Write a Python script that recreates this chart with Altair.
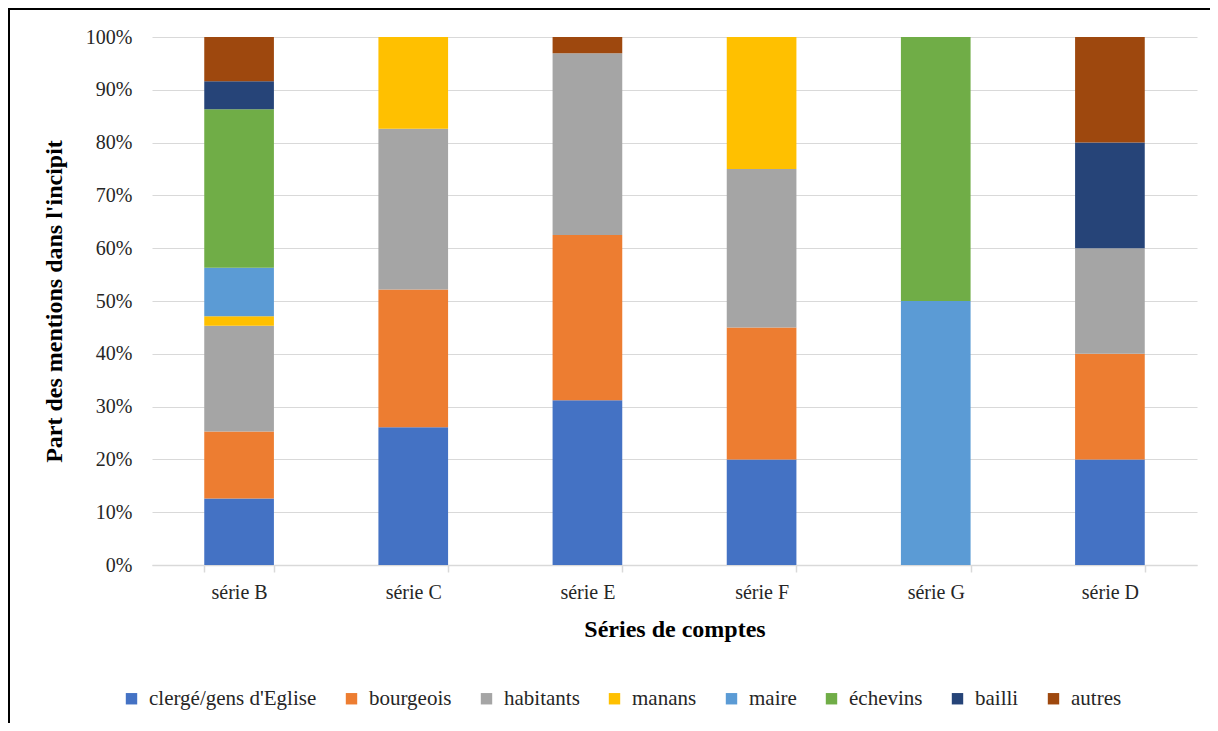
import altair as alt
import pandas as pd

series = ["série B", "série C", "série E", "série F", "série G", "série D"]
groups = ["clergé/gens d'Eglise", "bourgeois", "habitants", "manans", "maire", "échevins", "bailli", "autres"]
colors = ["#4472C4", "#ED7D31", "#A5A5A5", "#FFC000", "#5B9BD5", "#70AD47", "#264478", "#9E480E"]

# percentages per group, in the order of `series`
clerge    = [12.6, 26.1, 31.2, 20.0, 0.0, 20.0]
bourgeois = [12.7, 26.1, 31.3, 25.0, 0.0, 20.0]
habitants = [20.0, 30.4, 34.4, 30.0, 0.0, 20.0]
manans    = [1.8, 17.4, 0.0, 25.0, 0.0, 0.0]
maire     = [9.2, 0.0, 0.0, 0.0, 50.0, 0.0]
echevins  = [30.0, 0.0, 0.0, 0.0, 50.0, 0.0]
bailli    = [5.3, 0.0, 0.0, 0.0, 0.0, 20.0]
autres    = [8.4, 0.0, 3.1, 0.0, 0.0, 20.0]

values = [clerge, bourgeois, habitants, manans, maire, echevins, bailli, autres]
rows = []
for gi, (g, vals) in enumerate(zip(groups, values)):
    for s, v in zip(series, vals):
        rows.append({"serie": s, "groupe": g, "valeur": v, "ordre": gi})
df = pd.DataFrame(rows)

FONT = "Liberation Serif"
W, H = 1045, 528

bars = alt.Chart(df).mark_bar().encode(
    x=alt.X("serie:N", sort=series,
            scale=alt.Scale(paddingInner=0.6, paddingOuter=0.3),
            axis=alt.Axis(title="Séries de comptes", labelAngle=0, labelFont=FONT,
                          labelFontSize=20, labelColor="#262626", labelPadding=10,
                          titleFont=FONT, titleFontSize=24, titleFontWeight="bold",
                          titleColor="#000000", titlePadding=15,
                          domainColor="#D9D9D9", domainWidth=1.5,
                          tickColor="#D9D9D9", tickWidth=1.5, tickSize=7,
                          tickBand="extent", grid=False)),
    y=alt.Y("valeur:Q", stack="normalize",
            scale=alt.Scale(domain=[0, 1]),
            axis=alt.Axis(title="Part des mentions dans l'incipit", format=".0%",
                          values=[i / 10 for i in range(11)],
                          labelFont=FONT, labelFontSize=20, labelColor="#262626",
                          labelPadding=20, ticks=False, domain=False,
                          gridColor="#D9D9D9", gridWidth=1.2,
                          titleFont=FONT, titleFontSize=24, titleFontWeight="bold",
                          titleColor="#000000", titleX=-98, titleY=H / 2,
                          titleAngle=-90, titleAlign="center", titleBaseline="middle")),
    color=alt.Color("groupe:N", sort=groups,
                    scale=alt.Scale(domain=groups, range=colors),
                    legend=alt.Legend(title=None, orient="none", direction="horizontal",
                                      columns=8, legendX=-31, legendY=651,
                                      symbolType="square", symbolSize=130,
                                      symbolStrokeWidth=0, labelFont=FONT,
                                      labelFontSize=21, labelColor="#262626",
                                      labelLimit=0, labelOffset=7, columnPadding=24)),
    order=alt.Order("ordre:Q", sort="ascending"),
)

frame_df = pd.DataFrame({"a": [0]})
left_line = alt.Chart(frame_df).mark_rule(color="#000000", strokeWidth=2).encode(
    x=alt.value(-143), y=alt.value(-28), y2=alt.value(H + 200))
top_line = alt.Chart(frame_df).mark_rule(color="#000000", strokeWidth=2).encode(
    x=alt.value(-144), x2=alt.value(W + 20), y=alt.value(-28))

chart = alt.layer(bars, left_line, top_line).properties(
    width=W, height=H,
    autosize=alt.AutoSizeParams(type="none"),
    padding={"left": 144, "top": 29, "right": 13, "bottom": 158},
).configure(
    background="#FFFFFF", font=FONT
).configure_view(
    stroke=None
).configure_axis(
    labelFont=FONT, titleFont=FONT
).configure_legend(
    labelFont=FONT, titleFont=FONT, labelLimit=0
)

chart.save("out.html", embed_options={"renderer": "svg", "actions": False})
